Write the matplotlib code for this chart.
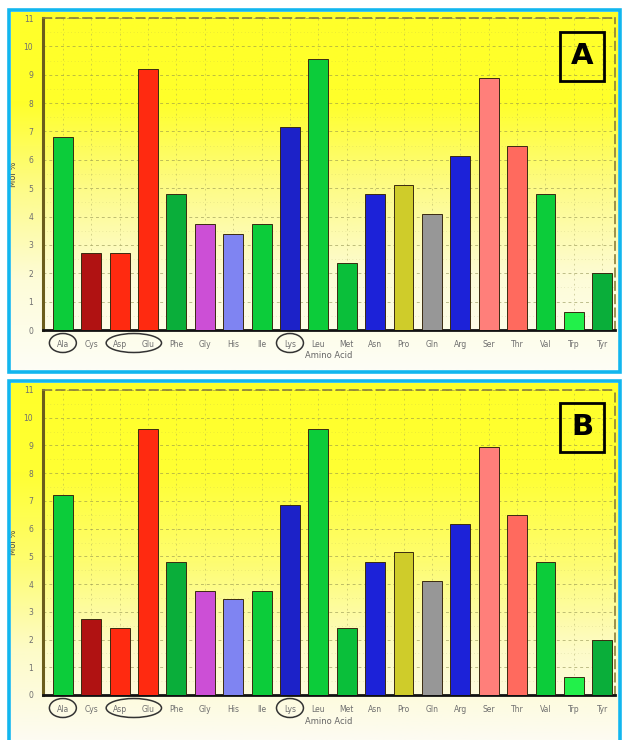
import numpy as np
import matplotlib
matplotlib.use("Agg")
import matplotlib.pyplot as plt
from matplotlib.colors import LinearSegmentedColormap
from matplotlib.patches import Rectangle, Ellipse
from matplotlib.transforms import blended_transform_factory

# amino acids on the x axis
amino = ["Ala", "Cys", "Asp", "Glu", "Phe", "Gly", "His", "Ile", "Lys", "Leu",
         "Met", "Asn", "Pro", "Gln", "Arg", "Ser", "Thr", "Val", "Trp", "Tyr"]

# mol %
mol_a = [6.8, 2.7, 2.7, 9.2, 4.8, 3.75, 3.4, 3.75, 7.15, 9.55,
         2.35, 4.8, 5.1, 4.1, 6.15, 8.9, 6.5, 4.8, 0.65, 2.0]
mol_b = [7.2, 2.75, 2.4, 9.6, 4.8, 3.75, 3.45, 3.75, 6.85, 9.6,
         2.4, 4.8, 5.15, 4.1, 6.15, 8.95, 6.5, 4.8, 0.65, 2.0]

bar_colors = ["#0ccc3a", "#b01212", "#ff2a10", "#ff2a10", "#0aae3a", "#cc4fd6",
              "#7f84f2", "#0ccc3a", "#1c22c8", "#0ccc3a", "#0abf3a", "#1c22d8",
              "#cfcc2a", "#979797", "#1c22d8", "#ff7f7a", "#ff6a5e", "#0ccc3a",
              "#22f04a", "#0aae3a"]

W, H = 623, 740
fig = plt.figure(figsize=(W / 100, H / 100), dpi=100)


def fx(px):
    return px / W


def fy(py):
    return 1 - py / H


def panel(top, bottom, ax_top, ax_bot, values, grad, letter):
    # yellow gradient background of the panel
    bg = fig.add_axes([fx(11), fy(bottom), fx(607), (bottom - top) / H])
    bg.set_axis_off()
    cmap = LinearSegmentedColormap.from_list("g", grad)
    bg.imshow(np.linspace(0, 1, 256).reshape(-1, 1), aspect="auto", cmap=cmap,
              extent=[0, 1, 0, 1], origin="upper")
    bg.set_xlim(0, 1)
    bg.set_ylim(0, 1)

    # cyan frame
    fig.patches.append(Rectangle((fx(9), fy(bottom + 2)), fx(611), (bottom - top + 4) / H,
                                 transform=fig.transFigure, fill=False,
                                 edgecolor="#12b6ee", linewidth=2.6))

    ax = fig.add_axes([fx(43), fy(ax_bot), fx(572), (ax_bot - ax_top) / H])
    ax.set_facecolor("none")
    x = np.arange(len(amino))
    ax.bar(x, values, width=0.7, color=bar_colors, edgecolor="#3a2a10",
           linewidth=0.7, zorder=3)
    ax.set_xlim(-0.7, 19.45)
    ax.set_ylim(0, 11)
    ax.set_yticks(range(12))
    ax.set_yticks(np.arange(0.5, 11, 0.5), minor=True)
    ax.set_xticks(x)
    ax.set_xticklabels(amino)
    ax.tick_params(axis="both", labelsize=5.5, labelcolor="#6f6f6f", length=0, pad=7)
    ax.tick_params(axis="y", which="minor", length=0)
    ax.grid(True, axis="y", which="major", linestyle=(0, (3, 3)), color="#8a8a4a",
            linewidth=0.7, alpha=0.55, zorder=0)
    ax.grid(True, axis="y", which="minor", linestyle=(0, (1, 4)), color="#9a9a5a",
            linewidth=0.5, alpha=0.35, zorder=0)
    ax.grid(True, axis="x", linestyle=(0, (2, 4)), color="#9a9a5a", linewidth=0.6,
            alpha=0.5, zorder=0)
    ax.spines["left"].set_color("#6b5d1c")
    ax.spines["left"].set_linewidth(2.2)
    ax.spines["bottom"].set_color("#111111")
    ax.spines["bottom"].set_linewidth(2.0)
    for s in ("top", "right"):
        ax.spines[s].set_linestyle((0, (5, 3)))
        ax.spines[s].set_color("#8a7f3a")
        ax.spines[s].set_linewidth(1.2)
    ax.set_ylabel("Mol %", fontsize=6, color="#4a4a4a", labelpad=4)
    ax.set_xlabel("Amino Acid", fontsize=6, color="#666666", labelpad=2)

    # circled labels
    tr = blended_transform_factory(ax.transData, ax.transAxes)
    h = ax_bot - ax_top
    for cx, w in ((0, 0.95), (2.5, 1.95), (8, 0.95)):
        ax.add_patch(Ellipse((cx, -13 / h), w, 19 / h, transform=tr, fill=False,
                             edgecolor="#333333", linewidth=1.1, clip_on=False))

    fig.text(fx(582), fy(top + 44), letter, fontsize=21, fontweight="bold",
             ha="center", va="center",
             bbox=dict(boxstyle="square,pad=0.36", facecolor="none",
                       edgecolor="black", linewidth=2))


panel(12, 370, 18, 330, mol_a,
      ["#ffff2a", "#ffff2a", "#fdfb8a", "#fdfcd8", "#fefef6"], "A")
panel(383, 740, 390, 695, mol_b,
      ["#ffff2a", "#ffff33", "#fefd70", "#fdfbc8", "#fdfcf2"], "B")

fig.savefig("out.png", dpi=100)
